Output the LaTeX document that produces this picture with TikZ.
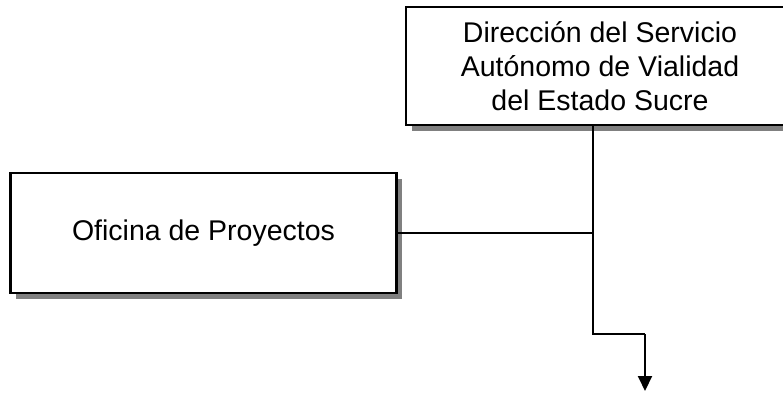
\documentclass[tikz,border=0pt]{standalone}
\usepackage{fontspec}
\setmainfont{Liberation Sans}
\usetikzlibrary{arrows.meta,shadows}
\begin{document}
\begin{tikzpicture}[x=1pt,y=1pt,
  orgbox/.style={draw=black, line width=2.2pt, fill=white, align=center,
    inner sep=0pt, font=\fontsize{28.5}{34}\selectfont,
    drop shadow={shadow xshift=5.5pt, shadow yshift=-5.5pt, fill=black!50, opacity=1}},
  conn/.style={line width=2pt, draw=black}]
\useasboundingbox (0,0) rectangle (783,-393);
\node[orgbox, minimum width=388pt, minimum height=118pt] (a) at (600,-66)
  {Dirección del Servicio\\Autónomo de Vialidad\\del Estado Sucre};
\node[orgbox, minimum width=386pt, minimum height=120pt] (b) at (203.5,-233)
  {Oficina de Proyectos};
\coordinate (j2) at (593,-334);
\coordinate (j3) at (645,-334);
\coordinate (e) at (645,-391);
\draw[conn] (a.south -| j2) -- (j2) -- (j3);
\draw[conn, -{Triangle[width=14pt,length=15pt]}] (j3) -- (e);
\draw[conn] (b.east) -- (b.east -| j2);
\end{tikzpicture}
\end{document}
